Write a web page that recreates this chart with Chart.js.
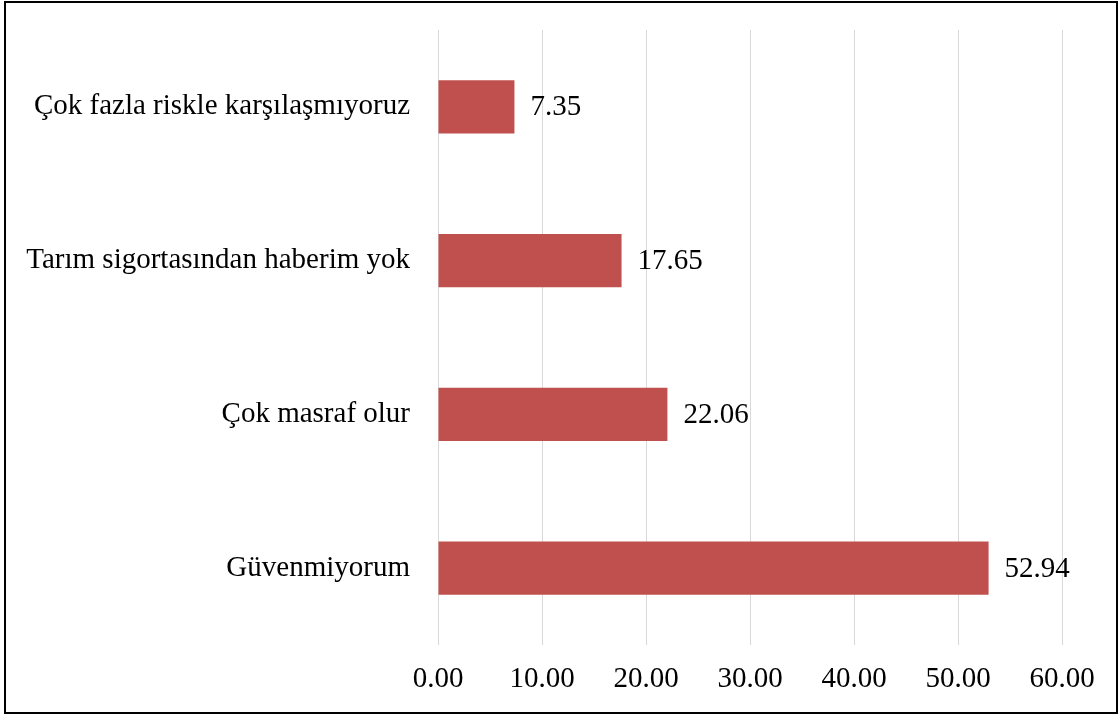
<!DOCTYPE html>
<html>
<head>
<meta charset="utf-8">
<script src="https://cdn.jsdelivr.net/npm/chart.js@4"></script>
<style>
  body { margin: 0; background: #fff; }
  #wrap { position: relative; width: 1119px; height: 716px; }
  #frame { position: absolute; left: 4px; top: 1px; width: 1110px; height: 709px; border: 2px solid #000; pointer-events: none; }
</style>
</head>
<body>
<div id="wrap">
  <canvas id="chart" width="1119" height="716"></canvas>
  <div id="frame"></div>
</div>
<script>
// =====================
// Data
// =====================
const categories = [
  "Çok fazla riskle karşılaşmıyoruz",
  "Tarım sigortasından haberim yok",
  "Çok masraf olur",
  "Güvenmiyorum"
];
const values = [7.35, 17.65, 22.06, 52.94];
const xTicks = [0, 10, 20, 30, 40, 50, 60];

const FONT = "'Liberation Serif', 'Times New Roman', serif";
const FONT_SIZE = 29;

// value labels at bar ends
const valueLabels = {
  id: "valueLabels",
  afterDatasetsDraw(chart) {
    const ctx = chart.ctx;
    const meta = chart.getDatasetMeta(0);
    ctx.save();
    ctx.font = FONT_SIZE + "px " + FONT;
    ctx.fillStyle = "#000";
    ctx.textBaseline = "middle";
    ctx.textAlign = "left";
    meta.data.forEach((bar, i) => {
      ctx.fillText(values[i].toFixed(2), bar.x + 16, bar.y + 1);
    });
    ctx.restore();
  }
};

// =====================
// Chart
// =====================
new Chart(document.getElementById("chart").getContext("2d"), {
  type: "bar",
  data: {
    labels: categories,
    datasets: [{
      data: values,
      backgroundColor: "#C0504D",
      borderWidth: 0,
      barPercentage: 0.345,
      categoryPercentage: 1
    }]
  },
  options: {
    indexAxis: "y",
    responsive: false,
    animation: false,
    layout: { padding: { left: 0, right: 57, top: 30, bottom: 0 } },
    plugins: { legend: { display: false }, tooltip: { enabled: false } },
    scales: {
      x: {
        min: 0,
        max: 60,
        afterBuildTicks: s => { s.ticks = xTicks.map(v => ({ value: v })); },
        afterFit: s => { s.height = 71; s.paddingLeft = 0; s.paddingRight = 0; },
        grid: { color: "#d9d9d9", lineWidth: 1, drawTicks: false },
        border: { display: false },
        ticks: {
          color: "#000",
          padding: 17,
          font: { family: FONT, size: FONT_SIZE },
          callback: v => Number(v).toFixed(2)
        }
      },
      y: {
        afterFit: s => { s.width = 438; s.paddingTop = 0; s.paddingBottom = 0; },
        grid: { display: false },
        border: { display: false },
        ticks: {
          color: "#000",
          padding: 20,
          font: { family: FONT, size: FONT_SIZE }
        }
      }
    }
  },
  plugins: [valueLabels]
});
</script>
</body>
</html>
